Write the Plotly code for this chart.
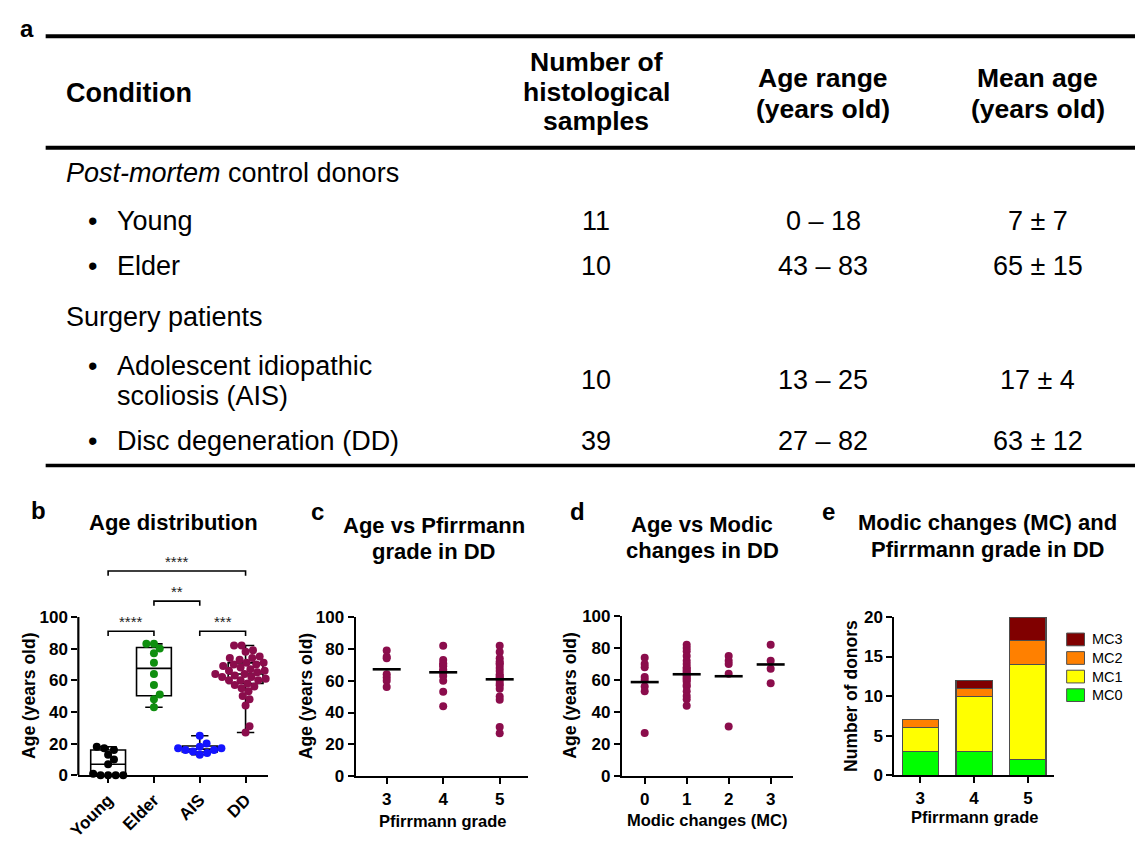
import numpy as np
import plotly.graph_objects as go

W, H = 1135, 841
FONT = "Liberation Sans, Arial, Helvetica, sans-serif"

# ---------------- panel a: cohort table ----------------
header_condition = "Condition"
header_samples = ["Number of", "histological", "samples"]
header_range = ["Age range", "(years old)"]
header_mean = ["Mean age", "(years old)"]
group_labels = ["<i>Post-mortem</i> control donors", "Surgery patients"]
condition_labels = [["Young"], ["Elder"],
                    ["Adolescent idiopathic", "scoliosis (AIS)"],
                    ["Disc degeneration (DD)"]]
n_samples = ["11", "10", "10", "39"]
age_ranges = ["0 – 18", "43 – 83", "13 – 25", "27 – 82"]
mean_ages = ["7 ± 7", "65 ± 15", "17 ± 4", "63 ± 12"]

# ---------------- panel b: ages per cohort ----------------
groups_b = ["Young", "Elder", "AIS", "DD"]
young_ages = [18, 17, 16, 13, 10, 7, 1, 0, 0, 0, 0]
elder_ages = [83, 83, 80, 77, 71, 64, 57, 51, 48, 43]
ais_ages = [25, 20, 18, 17, 17, 16, 16, 15, 14, 13]
colors_b = ["#000000", "#0f8f0f", "#1414ff", "#8b0d4c"]

# significance brackets: (left group, right group, label, bracket height)
sig_left = [0, 1, 2, 0]
sig_right = [1, 2, 3, 3]
sig_label = ["****", "**", "***", "****"]
sig_level = [91, 110, 91, 129]

# ---------------- panel c: DD ages by Pfirrmann grade ----------------
pfirrmann_grades = [3, 4, 5]
ages_grade3 = [79, 75, 74, 64, 62, 60, 56]
ages_grade4 = [82, 73, 71, 70, 69, 67, 66, 65, 63, 60, 53, 44]
ages_grade5 = [82, 78, 74, 72, 71, 70, 68, 66, 64, 63, 62, 61, 60, 58, 57,
               55, 50, 48, 31, 27]
dd_ages = ages_grade3 + ages_grade4 + ages_grade5

# ---------------- panel d: DD ages by Modic change ----------------
modic_classes = [0, 1, 2, 3]
ages_mc0 = [74, 70, 68, 62, 60, 56, 53, 27]
ages_mc1 = [82, 80, 78, 75, 72, 70, 68, 67, 66, 65, 64, 63, 62, 61, 60, 59,
            57, 56, 53, 50, 48, 44]
ages_mc2 = [75, 72, 70, 64, 31]
ages_mc3 = [82, 72, 67, 58]

# ---------------- panel e: donors per grade and Modic class ----------------
mc_names = ["MC0", "MC1", "MC2", "MC3"]
mc_colors = ["#00ff00", "#ffff00", "#ff8000", "#800000"]
donors_mc0 = [3, 3, 2]
donors_mc1 = [3, 7, 12]
donors_mc2 = [1, 1, 3]
donors_mc3 = [0, 1, 3]


def px(x):
    return x / W


def py(y):
    return 1 - y / H


annotations = []
shapes = []


def label(x, y, s, size, bold=False, xanchor="center", yanchor="middle",
          xref="paper", yref="paper", angle=0, color="black"):
    annotations.append(dict(
        x=x, y=y, xref=xref, yref=yref, text=s, showarrow=False,
        xanchor=xanchor, yanchor=yanchor, textangle=angle, borderpad=0,
        font=dict(family=FONT, size=size, color=color,
                  weight="bold" if bold else "normal")))


def lines(xc, ys, texts, size, bold=False, xanchor="center"):
    for yv, t in zip(ys, texts):
        label(px(xc), py(yv), t, size, bold=bold, xanchor=xanchor)


# table rules
for yv, w in [(28, 4), (142, 4), (467, 3.5)]:
    shapes.append(dict(type="line", xref="paper", yref="paper",
                       x0=px(35), x1=1, y0=py(yv), y1=py(yv),
                       line=dict(color="black", width=w)))

TS = 27
label(px(16), py(20), "a", 24, bold=True)
lines(55, [86], [header_condition], TS, bold=True, xanchor="left")
lines(591, [54, 85, 115], header_samples, TS - 0.5, bold=True)
lines(820, [71, 102], header_range, TS - 0.5, bold=True)
lines(1037, [71, 102], header_mean, TS - 0.5, bold=True)

lines(55, [168], [group_labels[0]], TS, xanchor="left")
lines(55, [315], [group_labels[1]], TS, xanchor="left")

row_text_y = [[217], [263], [365, 396], [442]]
row_value_y = [217, 263, 380, 442]
for i in range(4):
    lines(82, [row_text_y[i][0]], ["•"], TS)
    lines(106, row_text_y[i], condition_labels[i], TS, xanchor="left")
    lines(591, [row_value_y[i]], [n_samples[i]], TS)
    lines(820, [row_value_y[i]], [age_ranges[i]], TS)
    lines(1037, [row_value_y[i]], [mean_ages[i]], TS)


# ---------------- figure ----------------
fig = go.Figure()


def swarm(values, diam, ypx, xpx):
    """Beeswarm offsets (in axis units) so markers of diameter `diam` px do not overlap."""
    vals = np.asarray(values, dtype=float)
    order = np.argsort(vals, kind="stable")
    placed = []
    out = np.zeros(len(vals))
    for i in order:
        yv = vals[i] * ypx
        cands = [0.0]
        for (pyv, pxv) in placed:
            dy = yv - pyv
            if abs(dy) < diam:
                dx = np.sqrt(diam ** 2 - dy ** 2)
                cands += [pxv + dx, pxv - dx]
        cands.sort(key=abs)
        for c in cands:
            if all((c - pxv) ** 2 + (yv - pyv) ** 2 >= diam ** 2 - 1e-6
                   for pyv, pxv in placed):
                out[i] = c
                break
        placed.append((yv, out[i]))
    return out / xpx


# panel b box plots (whiskers span min to max)
cohorts = [young_ages, elder_ages, ais_ages, dd_ages]
q1 = [float(np.percentile(a, 25, method="weibull")) for a in cohorts]
med = [float(np.median(a)) for a in cohorts]
q3 = [float(np.percentile(a, 75, method="weibull")) for a in cohorts]
fig.add_trace(go.Box(
    x=[0, 1, 2, 3], q1=q1, median=med, q3=q3,
    lowerfence=[min(a) for a in cohorts], upperfence=[max(a) for a in cohorts],
    orientation="v", width=0.76, whiskerwidth=0.5, boxpoints=False,
    fillcolor="white", line=dict(color="black", width=1.6),
    hoverinfo="skip", showlegend=False, xaxis="x", yaxis="y"))

B_XPX, B_YPX = 46.0, 1.62
for k, ages in enumerate(cohorts):
    off = swarm(ages, 7.6, B_YPX, B_XPX)
    fig.add_trace(go.Scatter(
        x=k + off, y=ages, mode="markers", cliponaxis=False,
        marker=dict(size=8, color=colors_b[k]), showlegend=False,
        xaxis="x", yaxis="y"))

for a, b, s, lv in zip(sig_left, sig_right, sig_label, sig_level):
    shapes.append(dict(type="path", xref="x", yref="y",
                       path=f"M {a},{lv - 3} L {a},{lv} L {b},{lv} L {b},{lv - 3}",
                       line=dict(color="black", width=1.6)))
    label((a + b) / 2, lv, s, 15, xanchor="center", yanchor="bottom",
          xref="x", yref="y", color="#222222")

# y axis line of panel b only spans 0-100
shapes.append(dict(type="line", xref="x domain", yref="y", x0=0, x1=0, y0=0, y1=100,
                   line=dict(color="black", width=2.2)))

# panel c
for g, ages in zip(pfirrmann_grades, [ages_grade3, ages_grade4, ages_grade5]):
    fig.add_trace(go.Scatter(
        x=[g] * len(ages), y=ages, mode="markers", cliponaxis=False,
        marker=dict(size=8, color=colors_b[3]), showlegend=False,
        xaxis="x2", yaxis="y2"))
    fig.add_trace(go.Scatter(
        x=[g], y=[float(np.mean(ages))], mode="markers", cliponaxis=False,
        marker=dict(symbol="line-ew", size=20, line=dict(color="black", width=2.6)),
        showlegend=False, xaxis="x2", yaxis="y2"))

# panel d
for m, ages in zip(modic_classes, [ages_mc0, ages_mc1, ages_mc2, ages_mc3]):
    fig.add_trace(go.Scatter(
        x=[m] * len(ages), y=ages, mode="markers", cliponaxis=False,
        marker=dict(size=8, color=colors_b[3]), showlegend=False,
        xaxis="x3", yaxis="y3"))
    fig.add_trace(go.Scatter(
        x=[m], y=[float(np.mean(ages))], mode="markers", cliponaxis=False,
        marker=dict(symbol="line-ew", size=20, line=dict(color="black", width=2.6)),
        showlegend=False, xaxis="x3", yaxis="y3"))

# panel e
for name, col, vals in zip(mc_names, mc_colors,
                           [donors_mc0, donors_mc1, donors_mc2, donors_mc3]):
    fig.add_trace(go.Bar(
        x=pfirrmann_grades, y=vals, name=name, width=0.67,
        marker=dict(color=col, line=dict(color="#4d4d4d", width=1.2)),
        showlegend=False, xaxis="x4", yaxis="y4"))

# legend for panel e
for i, (name, col) in enumerate(zip(mc_names[::-1], mc_colors[::-1])):
    yc = 645 + i * 19
    shapes.append(dict(type="rect", xref="paper", yref="paper",
                       x0=px(1066), x1=px(1084), y0=py(yc - 6.5), y1=py(yc + 6.5),
                       fillcolor=col, line=dict(color="#4d4d4d", width=1)))
    label(px(1091), py(yc), name, 14.5, xanchor="left")

# panel letters, titles, axis titles
label(px(28), py(513), "b", 24, bold=True)
label(px(310), py(514), "c", 24, bold=True)
label(px(572), py(514), "d", 24, bold=True)
label(px(825), py(514), "e", 24, bold=True)

TT = 22
lines(164, [525], ["Age distribution"], TT, bold=True)
lines(427, [528, 555], ["Age vs Pfirrmann", "grade in DD"], TT, bold=True)
lines(698, [527, 554], ["Age vs Modic", "changes in DD"], TT, bold=True)
lines(986, [525, 553], ["Modic changes (MC) and", "Pfirrmann grade in DD"], TT, bold=True)

AT = 17.5
label(px(18), 50, "Age (years old)", AT, bold=True, xref="paper", yref="y", angle=-90)
label(px(298), py(703), "Age (years old)", AT, bold=True, angle=-90)
label(px(565), py(703), "Age (years old)", AT, bold=True, angle=-90)
label(px(848), py(703), "Number of donors", AT, bold=True, angle=-90)
label(px(436), py(831), "Pfirrmann grade", 16.5, bold=True)
label(px(703), py(830), "Modic changes (MC)", 16.5, bold=True)
label(px(973), py(827), "Pfirrmann grade", 16.5, bold=True)

TICKFONT = dict(family=FONT, size=17, color="black", weight="bold")
axis_common = dict(showgrid=False, zeroline=False, ticks="outside", ticklen=6,
                   tickwidth=2, tickcolor="black", linecolor="black", linewidth=2.2,
                   tickfont=TICKFONT, fixedrange=True)

fig.update_layout(
    width=W, height=H, margin=dict(l=0, r=0, t=0, b=0),
    paper_bgcolor="white", plot_bgcolor="white",
    font=dict(family=FONT, color="black"),
    barmode="stack", showlegend=False,
    xaxis=dict(domain=[px(68), px(260)], range=[-0.65, 3.5], tickvals=[0, 1, 2, 3],
               ticktext=groups_b, tickangle=-45, showline=True, anchor="y",
               **axis_common),
    yaxis=dict(domain=[py(784), py(784 - 140 * B_YPX)], range=[0, 140],
               tickvals=[0, 20, 40, 60, 80, 100], showline=False, anchor="x",
               **axis_common),
    xaxis2=dict(domain=[px(348), px(522)], range=[2.45, 5.5], tickvals=pfirrmann_grades,
                showline=True, anchor="y2", **axis_common),
    yaxis2=dict(domain=[py(785), py(622)], range=[0, 100],
                tickvals=[0, 20, 40, 60, 80, 100], showline=True, anchor="x2",
                **axis_common),
    xaxis3=dict(domain=[px(617), px(790)], range=[-0.54, 3.54], tickvals=modic_classes,
                showline=True, anchor="y3", **axis_common),
    yaxis3=dict(domain=[py(785), py(621)], range=[0, 100],
                tickvals=[0, 20, 40, 60, 80, 100], showline=True, anchor="x3",
                **axis_common),
    xaxis4=dict(domain=[px(892), px(1053)], range=[2.52, 5.48], tickvals=pfirrmann_grades,
                showline=True, anchor="y4", **axis_common),
    yaxis4=dict(domain=[py(784), py(622)], range=[0, 20],
                tickvals=[0, 5, 10, 15, 20], showline=True, anchor="x4",
                **axis_common),
    annotations=annotations,
    shapes=shapes,
)

fig.write_html("out.html")
